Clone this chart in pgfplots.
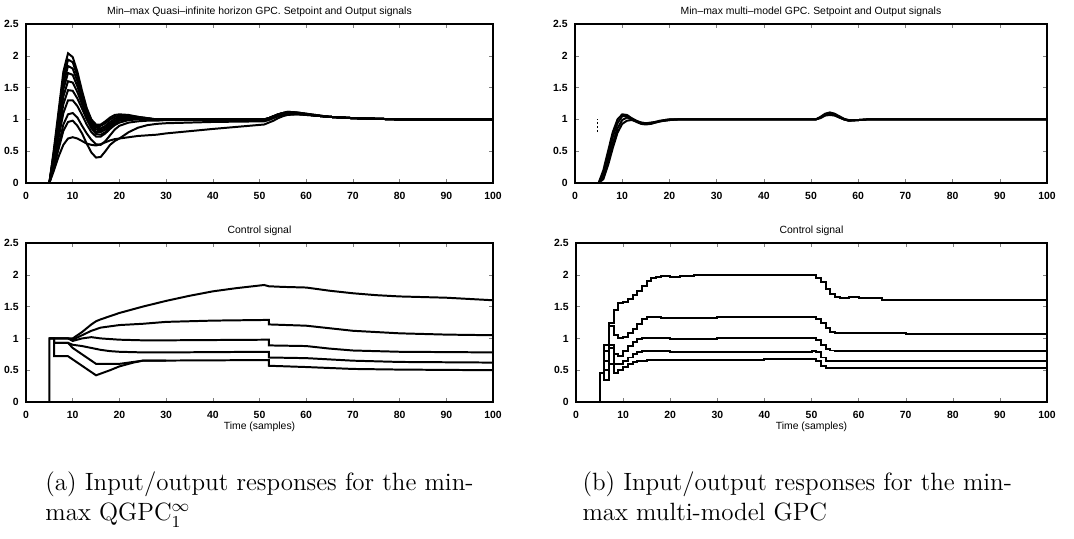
\documentclass[border=0pt]{standalone}
\usepackage{fontspec}
\setsansfont{Liberation Sans}
\usepackage{pgfplots}
\pgfplotsset{compat=1.18}
\usepackage{pgfplotstable}

\pgfplotstableread{
t a b c d e f g h i j
0 0 0 0 0 0 0 0 0 0 0
5 0 0 0 0 0 0 0 0 0 0
6 0.55 0.50 0.48 0.45 0.42 0.38 0.34 0.28 0.25 0.20
7 1.15 1.08 1.02 0.96 0.88 0.80 0.72 0.60 0.54 0.42
8 1.75 1.65 1.56 1.47 1.36 1.24 1.10 0.92 0.82 0.60
9 2.04 1.94 1.84 1.73 1.60 1.46 1.30 1.08 0.96 0.70
10 1.98 1.90 1.80 1.70 1.58 1.45 1.30 1.10 0.98 0.72
11 1.75 1.68 1.60 1.52 1.43 1.33 1.21 1.03 0.90 0.70
12 1.45 1.40 1.35 1.30 1.24 1.17 1.07 0.90 0.78 0.66
13 1.18 1.15 1.12 1.08 1.04 1.00 0.92 0.78 0.62 0.62
14 1.00 0.98 0.95 0.93 0.90 0.86 0.80 0.68 0.48 0.60
15 0.92 0.90 0.87 0.84 0.80 0.77 0.73 0.61 0.40 0.59
16 0.92 0.90 0.86 0.83 0.80 0.76 0.73 0.60 0.41 0.61
17 0.97 0.94 0.90 0.87 0.84 0.80 0.78 0.66 0.50 0.64
18 1.03 1.00 0.96 0.93 0.90 0.87 0.85 0.75 0.60 0.67
19 1.07 1.04 1.01 0.98 0.96 0.93 0.91 0.84 0.66 0.69
20 1.08 1.06 1.04 1.02 1.00 0.98 0.95 0.90 0.70 0.70
22 1.07 1.06 1.05 1.04 1.03 1.01 0.99 0.95 0.80 0.72
24 1.04 1.04 1.03 1.03 1.02 1.01 1.00 0.97 0.87 0.74
26 1.02 1.02 1.01 1.01 1.01 1.00 1.00 0.98 0.91 0.75
28 1.00 1.00 1.00 1.00 1.00 1.00 1.00 0.98 0.93 0.76
30 1.00 1.00 1.00 1.00 1.00 1.00 1.00 0.99 0.94 0.78
40 1.00 1.00 1.00 1.00 1.00 1.00 1.00 0.99 0.96 0.85
51 1.00 1.00 1.00 1.00 1.00 1.00 1.00 0.99 0.97 0.92
52 1.02 1.02 1.02 1.02 1.02 1.01 1.01 1.01 0.99 0.95
53 1.05 1.05 1.05 1.05 1.05 1.04 1.04 1.04 1.02 0.98
54 1.08 1.08 1.08 1.08 1.07 1.07 1.07 1.07 1.05 1.02
55 1.10 1.10 1.10 1.10 1.09 1.09 1.09 1.09 1.07 1.05
56 1.12 1.12 1.11 1.11 1.11 1.10 1.10 1.10 1.08 1.07
58 1.11 1.11 1.10 1.10 1.10 1.10 1.09 1.09 1.08 1.08
60 1.09 1.09 1.08 1.08 1.08 1.08 1.08 1.08 1.07 1.07
62 1.07 1.07 1.06 1.06 1.06 1.06 1.06 1.06 1.06 1.06
65 1.04 1.04 1.04 1.04 1.04 1.04 1.04 1.04 1.04 1.04
70 1.02 1.02 1.02 1.02 1.02 1.02 1.02 1.02 1.02 1.02
75 1.01 1.01 1.01 1.01 1.01 1.01 1.01 1.01 1.01 1.01
80 1.00 1.00 1.00 1.00 1.00 1.00 1.00 1.00 1.00 1.00
100 1.00 1.00 1.00 1.00 1.00 1.00 1.00 1.00 1.00 1.00
}\tl

\pgfplotsset{
  mstyle/.style={
    scale only axis,
    height=76.32pt,
    xmin=0, xmax=100, ymin=0, ymax=2.5,
    xtick={0,10,...,100},
    ytick={0,0.5,1,1.5,2,2.5},
    yticklabels={0,0.5,1,1.5,2,2.5},
    tick align=inside,
    major tick length=2pt,
    xtick pos=both, ytick pos=both,
    xticklabel pos=bottom, yticklabel pos=left,
    /pgf/number format/assume math mode=true,
    tick label style={font=\fontsize{5}{6}\selectfont\sffamily\bfseries},
    xticklabel style={yshift=-1pt},
    title style={font=\fontsize{5}{6}\selectfont\sffamily, yshift=-6pt},
    xlabel style={font=\fontsize{5}{6}\selectfont\sffamily, yshift=5.5pt},
    axis line style={line width=0.7pt},
    cycle list={black\\},
    every axis plot/.append style={black, solid, line width=0.95pt, mark=none},
  }
}

\begin{document}
\begin{tikzpicture}
\useasboundingbox (0,0) rectangle (515.52pt,-258.24pt);

% Top-left
\begin{axis}[mstyle, at={(12.48pt,-87.84pt)}, anchor=south west, width=224.16pt,
  title={Min--max Quasi--infinite horizon GPC. Setpoint and Output signals}]
\pgfplotsinvokeforeach{a,b,c,d,e,f,g,h,i,j}{
  \addplot table[x=t,y=#1]{\tl};
}
\end{axis}

% Top-right
\begin{axis}[mstyle, at={(276pt,-87.84pt)}, anchor=south west, width=226.56pt,
  title={Min--max multi--model GPC. Setpoint and Output signals}]
\addplot coordinates {(0,0)(5,0)(6,0.2)(7,0.5)(8,0.8)(9,1.0)(10,1.08)(11,1.07)(12,1.02)(13,0.98)(14,0.95)(15,0.94)(16,0.94)(17,0.96)(18,0.98)(19,0.99)(20,1.0)(51,1.0)(52,1.04)(53,1.09)(54,1.11)(55,1.09)(56,1.05)(57,1.01)(58,0.99)(59,0.985)(60,0.99)(62,1.0)(100,1.0)};
\addplot coordinates {(0,0)(5,0)(6,0.15)(7,0.42)(8,0.72)(9,0.94)(10,1.05)(11,1.05)(12,1.01)(13,0.97)(14,0.94)(15,0.93)(16,0.93)(17,0.95)(18,0.97)(19,0.99)(20,1.0)(51,1.0)(52,1.03)(53,1.08)(54,1.1)(55,1.08)(56,1.04)(57,1.0)(58,0.98)(60,0.99)(62,1.0)(100,1.0)};
\addplot coordinates {(0,0)(5,0)(6,0.1)(7,0.35)(8,0.62)(9,0.86)(10,0.99)(11,1.03)(12,1.0)(13,0.96)(14,0.93)(15,0.92)(16,0.93)(17,0.95)(18,0.97)(20,0.99)(22,1.0)(51,1.0)(52,1.03)(53,1.07)(54,1.08)(55,1.07)(56,1.03)(57,1.0)(58,0.98)(60,0.99)(62,1.0)(100,1.0)};
\addplot coordinates {(0,0)(5,0)(6,0.06)(7,0.28)(8,0.55)(9,0.79)(10,0.93)(11,0.98)(12,0.99)(13,0.97)(14,0.95)(15,0.94)(17,0.96)(20,0.99)(22,1.0)(51,1.0)(52,1.02)(53,1.06)(54,1.07)(55,1.06)(56,1.03)(57,1.0)(58,0.985)(60,0.99)(62,1.0)(100,1.0)};
\addplot[black, densely dotted, line width=0.5pt] coordinates {(4.8,0.8)(4.8,1.0)};
\end{axis}

% Bottom-left
\begin{axis}[mstyle, at={(12.48pt,-192.96pt)}, anchor=south west, width=224.16pt,
  title={Control signal}, xlabel={Time (samples)}]
\addplot coordinates {(0,0)(5,0)(5,1)(9,1)(10,1.0)(11,1.05)(12,1.1)(13,1.16)(14,1.22)(15,1.27)(16,1.3)(18,1.35)(20,1.4)(25,1.5)(30,1.59)(35,1.67)(40,1.74)(45,1.79)(51,1.84)(52,1.82)(55,1.81)(60,1.8)(65,1.75)(70,1.71)(75,1.68)(80,1.66)(90,1.64)(100,1.6)};
\addplot coordinates {(5,1)(9,1)(10,0.98)(12,1.05)(14,1.12)(16,1.17)(18,1.19)(20,1.21)(25,1.23)(30,1.26)(40,1.28)(51,1.29)(52,1.29)(52,1.22)(60,1.2)(65,1.16)(70,1.12)(80,1.08)(90,1.06)(100,1.05)};
\addplot coordinates {(5,1)(9,1)(10,0.96)(12,1.0)(14,1.02)(16,1.0)(20,0.98)(25,0.97)(30,0.97)(52,0.98)(52,0.89)(60,0.88)(65,0.84)(70,0.81)(80,0.79)(100,0.78)};
\addplot coordinates {(5,1)(6,1)(6,0.93)(9,0.93)(10,0.9)(12,0.88)(14,0.85)(16,0.82)(18,0.8)(20,0.79)(25,0.78)(30,0.78)(52,0.79)(52,0.7)(60,0.69)(70,0.65)(80,0.63)(100,0.62)};
\addplot coordinates {(6,0.93)(9,0.93)(10,0.85)(12,0.75)(14,0.65)(15,0.6)(20,0.6)(23,0.63)(25,0.65)(52,0.66)(52,0.57)(60,0.55)(70,0.52)(80,0.51)(100,0.5)};
\addplot coordinates {(6,1)(6,0.72)(9,0.72)(12,0.57)(15,0.42)(18,0.5)(20,0.56)(23,0.62)(25,0.65)(30,0.65)};
\end{axis}

% Bottom-right
\begin{axis}[mstyle, at={(276.48pt,-192.96pt)}, anchor=south west, width=226.08pt,
  title={Control signal}, xlabel={Time (samples)}, every axis plot post/.append style={const plot}]
\addplot coordinates {(0,0)(5,0.45)(6,0.9)(7,1.25)(8,1.45)(9,1.55)(10,1.58)(11,1.62)(12,1.68)(13,1.75)(14,1.83)(15,1.9)(16,1.95)(17,1.97)(18,1.98)(20,1.97)(22,1.98)(25,1.99)(30,2.0)(50,2.0)(51,1.95)(52,1.88)(53,1.78)(54,1.7)(55,1.65)(56,1.64)(58,1.65)(60,1.64)(65,1.61)(70,1.6)(100,1.6)};
\addplot coordinates {(0,0)(5,0.45)(6,0.8)(7,1.2)(8,1.05)(9,1.0)(10,1.02)(11,1.08)(12,1.15)(13,1.22)(14,1.3)(15,1.34)(16,1.33)(18,1.32)(20,1.32)(30,1.33)(50,1.33)(51,1.3)(52,1.24)(53,1.16)(54,1.1)(55,1.08)(58,1.09)(60,1.08)(70,1.07)(100,1.07)};
\addplot coordinates {(0,0)(5,0.45)(6,0.65)(7,0.9)(8,0.75)(9,0.72)(10,0.8)(11,0.88)(12,0.94)(13,0.99)(14,1.01)(15,1.0)(20,0.99)(30,1.0)(50,1.0)(51,0.97)(52,0.9)(53,0.84)(54,0.81)(55,0.8)(60,0.8)(100,0.79)};
\addplot coordinates {(0,0)(5,0.45)(6,0.5)(7,0.85)(8,0.6)(9,0.6)(10,0.65)(11,0.7)(12,0.75)(13,0.79)(14,0.8)(20,0.79)(50,0.8)(51,0.78)(52,0.7)(53,0.65)(54,0.64)(60,0.64)(100,0.63)};
\addplot coordinates {(0,0)(5,0.45)(6,0.35)(7,0.6)(8,0.45)(9,0.5)(10,0.55)(11,0.6)(12,0.63)(13,0.65)(15,0.66)(20,0.66)(40,0.68)(50,0.67)(51,0.65)(52,0.56)(53,0.54)(60,0.53)(100,0.52)};
\end{axis}

\node[anchor=north west, align=left, inner sep=0pt, font=\fontsize{12}{14.5}\selectfont]
  at (21.6pt,-226.3pt) {(a) Input/output responses for the min-\\max QGPC$_1^\infty$};
\node[anchor=north west, align=left, inner sep=0pt, font=\fontsize{12}{14.5}\selectfont]
  at (279.4pt,-226.3pt) {(b) Input/output responses for the min-\\max multi-model GPC};
\end{tikzpicture}
\end{document}
